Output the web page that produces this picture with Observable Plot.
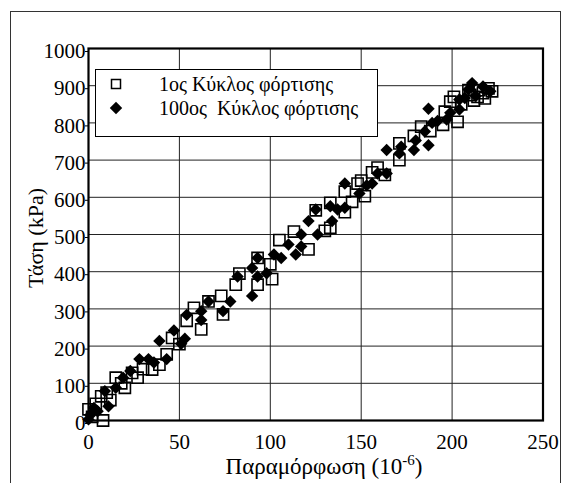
<!DOCTYPE html>
<html><head><meta charset="utf-8">
<script src="https://cdn.jsdelivr.net/npm/d3@7"></script>
<script src="https://cdn.jsdelivr.net/npm/@observablehq/plot@0.6"></script>
<style>
body{margin:0;background:#fff;}
#chart{width:564px;height:483px;overflow:hidden;}
</style></head><body><div id="chart"></div>
<script>
// 1st loading cycle (open squares)
const strain1 = [0,2,4,7,8,10,12,15,18,20,24,27,30,35,39,43,46,50,54,58,62,66,73,74,81,83,93,93,100,101,105,113,121,125,130,133,133,141,141,145,148,150,152,156,159,163,171,171,179,183,188,195,196,199,203,201,205,209,210,212,215,214,217,220,218,222];
const stress1 = [30,10,45,65,0,75,55,115,100,88,128,115,138,137,150,178,222,205,268,303,245,320,335,285,365,395,365,437,420,380,485,508,460,565,510,518,585,615,560,588,637,645,603,667,680,660,700,745,765,790,778,795,830,857,803,870,850,888,875,860,888,870,880,893,866,885];
// 100th loading cycle (filled diamonds)
const strain2 = [0,3,11,9,15,19,23,28,33,36,39,43,47,51,53,54,62,62,66,74,78,82,90,90,93,93,98,102,106,110,114,117,117,121,125,126,134,133,137,141,141,149,153,156,159,164,164,171,172,179,180,187,187,185,189,192,197,199,204,204,209,211,213,217,221,207,1,5];
const stress2 = [3,34,38,79,88,115,133,165,165,156,214,165,242,206,220,284,294,270,320,294,320,387,335,410,437,387,396,446,437,473,446,468,500,536,567,500,536,576,567,572,637,610,632,637,664,664,727,718,736,727,753,740,838,777,800,805,809,827,836,863,890,907,872,898,885,867,15,25];
const xTicks = [0,50,100,150,200,250];
const yTicks = [0,100,200,300,400,500,600,700,800,900,1000];
const series1Label = "1ος Κύκλος φόρτισης";
const series2Label = "100ος  Κύκλος φόρτισης";
const xLabel = "Παραμόρφωση (10";
const xLabelSup = "-6";
const yLabel = "Τάση (kPa)";

const d1 = strain1.map((x,i)=>({x, y: stress1[i]}));
const d2 = strain2.map((x,i)=>({x, y: stress2[i]}));

const FONT = "'Liberation Serif', 'Times New Roman', serif";
const plot = Plot.plot({
  width: 564, height: 483,
  marginLeft: 88, marginRight: 21.5, marginTop: 48, marginBottom: 63,
  style: {background: "#fff", color: "#000"},
  x: {domain: [0,250]},
  y: {domain: [0,1000]},
  marks: [
    Plot.gridX(xTicks, {stroke: "#222", strokeOpacity: 1, strokeWidth: 1}),
    Plot.gridY(yTicks, {stroke: "#222", strokeOpacity: 1, strokeWidth: 1}),
    Plot.axisX(xTicks, {tickSize: 0, tickPadding: 14, label: null, tickFormat: d => String(d)}),
    Plot.axisY(yTicks, {tickSize: 3, tickPadding: 0, label: null, dy: 3, tickFormat: d => String(d)}),
    Plot.dot(d1, {x: "x", y: "y", symbol: "square", r: 6.3, fill: "none", stroke: "#000", strokeWidth: 1.6}),
    Plot.dot(d2, {x: "x", y: "y", symbol: "diamond2", r: 5.6, fill: "#000", stroke: "none"}),
    Plot.frame({stroke: "#000", strokeWidth: 2.2})
  ]
});
document.getElementById("chart").appendChild(plot);

const svg = d3.select(plot);
// axis tick label fonts
svg.selectAll("text").style("font-family", FONT).style("font-size", "21px").style("fill", "#000");
// outer border
svg.append("rect").attr("x",10.5).attr("y",11.5).attr("width",550).attr("height",520)
  .attr("fill","none").attr("stroke","#333").attr("stroke-width",1);
// legend
const lg = svg.append("g");
lg.append("rect").attr("x",95.5).attr("y",69.5).attr("width",282).attr("height",67)
  .attr("fill","#fff").attr("stroke","#000").attr("stroke-width",1);
lg.append("path").attr("d", d3.symbol(d3.symbolSquare, 81)()).attr("transform","translate(116,84)")
  .attr("fill","none").attr("stroke","#000").attr("stroke-width",1.5);
lg.append("path").attr("d", d3.symbol(d3.symbolDiamond2, 5.6*5.6*Math.PI)()).attr("transform","translate(116,108)")
  .attr("fill","#000");
lg.append("text").attr("x",159).attr("y",91).attr("text-anchor","start").text(series1Label);
lg.append("text").attr("x",159).attr("y",115).attr("text-anchor","start").style("white-space","pre").text(series2Label);
lg.selectAll("text").style("font-family", FONT).style("font-size", "20px").style("fill", "#000");
// axis labels
const xl = svg.append("text").attr("x",324).attr("y",474).attr("text-anchor","middle")
  .style("font-family",FONT).style("font-size","23px").style("fill","#000");
xl.append("tspan").text(xLabel);
xl.append("tspan").attr("dy",-9).style("font-size","15px").text(xLabelSup);
xl.append("tspan").attr("dy",9).text(")");
svg.append("text").attr("transform","translate(35,238) rotate(-90)").attr("text-anchor","middle")
  .attr("dy","0.35em").style("font-family",FONT).style("font-size","22px").style("fill","#000").text(yLabel);
</script>
</body></html>
